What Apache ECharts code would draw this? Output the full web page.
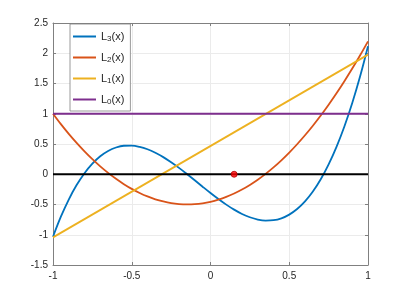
<!DOCTYPE html>
<html>
<head>
<meta charset="utf-8">
<script src="https://cdn.jsdelivr.net/npm/echarts@6/dist/echarts.min.js"></script>
<style>html,body{margin:0;padding:0;background:#fff}#c{width:407px;height:298px}</style>
</head>
<body>
<div id="c"></div>
<script>
var xs = [-1,-0.95,-0.9,-0.85,-0.8,-0.75,-0.7,-0.65,-0.6,-0.55,-0.5,-0.45,-0.4,-0.35,-0.3,-0.25,-0.2,-0.15,-0.1,-0.05,
          0,0.05,0.1,0.15,0.2,0.25,0.3,0.35,0.4,0.45,0.5,0.55,0.6,0.65,0.7,0.75,0.8,0.85,0.9,0.95,1];
var L3 = [-1.033,-0.702,-0.418,-0.179,0.018,0.176,0.298,0.385,0.442,0.471,0.473,0.453,0.413,0.355,0.283,0.198,0.105,0.004,-0.100,-0.206,
          -0.310,-0.409,-0.502,-0.585,-0.656,-0.711,-0.749,-0.766,-0.760,-0.728,-0.667,-0.575,-0.449,-0.286,-0.083,0.162,0.452,0.789,1.177,1.618,2.115];
var L2 = [1.0,0.828,0.668,0.519,0.379,0.250,0.131,0.023,-0.076,-0.164,-0.242,-0.309,-0.367,-0.414,-0.450,-0.477,-0.493,-0.499,-0.495,-0.480,
          -0.455,-0.420,-0.375,-0.319,-0.253,-0.177,-0.091,0.006,0.113,0.230,0.358,0.496,0.644,0.802,0.970,1.149,1.338,1.538,1.747,1.967,2.197];
var xEnds = [-1, 1];
var L1 = [-1.043, 1.977];
var L0 = [1, 1];
var zeroLine = [0, 0];
var point = [0.15, 0];
var names = ['L3(x)','L2(x)','L1(x)','L0(x)'];
var subs = {'L3(x)':'3','L2(x)':'2','L1(x)':'1','L0(x)':'0'};

function zip(xv, ys){ return xv.map(function(x,i){return [x, ys[i]];}); }

var font = 'Liberation Sans, Helvetica, Arial, sans-serif';
var axisCol = '#808080';
var chart = echarts.init(document.getElementById('c'), null, {renderer:'canvas'});
function mkLine(name, xv, ys, color, smooth){
  return {name:name, type:'line', data:zip(xv, ys), smooth:smooth, showSymbol:false, symbol:'none',
    lineStyle:{color:color, width:1.8}, itemStyle:{color:color}, emphasis:{disabled:true}, z:2};
}
chart.setOption({
  animation:false,
  backgroundColor:'#fff',
  grid:{left:53, right:39, top:23, bottom:33, containLabel:false},
  legend:{
    data:names, orient:'vertical', left:70, top:24,
    icon:'rect', itemWidth:23, itemHeight:2, itemGap:7,
    padding:[5,6,5,3], backgroundColor:'#fff',
    borderColor:'#808080', borderWidth:0.8,
    selectedMode:false,
    formatter:function(n){ return '{a|L}{s|'+subs[n]+'}{a|(x)}'; },
    textStyle:{
      rich:{
        a:{fontFamily:font, fontSize:11, color:'#262626', lineHeight:13, verticalAlign:'middle'},
        s:{fontFamily:font, fontSize:8, color:'#262626', lineHeight:13, verticalAlign:'bottom', padding:[6,0,0,0]}
      }
    }
  },
  xAxis:[
    {type:'value', min:-1, max:1, interval:0.5, position:'bottom',
     axisLine:{show:true, onZero:false, lineStyle:{color:axisCol, width:1}},
     axisTick:{show:true, inside:true, length:3, lineStyle:{color:axisCol}},
     axisLabel:{color:'#262626', fontFamily:font, fontSize:10, margin:6,
       formatter:function(v){return String(v);}},
     splitLine:{show:true, lineStyle:{color:'#ebebeb', width:1}}},
    {type:'value', min:-1, max:1, interval:0.5, position:'top',
     axisLine:{show:true, onZero:false, lineStyle:{color:axisCol, width:1}},
     axisTick:{show:true, inside:true, length:3, lineStyle:{color:axisCol}},
     axisLabel:{show:false}, splitLine:{show:false}}
  ],
  yAxis:[
    {type:'value', min:-1.5, max:2.5, interval:0.5, position:'left',
     axisLine:{show:true, onZero:false, lineStyle:{color:axisCol, width:1}},
     axisTick:{show:true, inside:true, length:3, lineStyle:{color:axisCol}},
     axisLabel:{color:'#262626', fontFamily:font, fontSize:10, margin:5,
       formatter:function(v){return String(v);}},
     splitLine:{show:true, lineStyle:{color:'#ebebeb', width:1}}},
    {type:'value', min:-1.5, max:2.5, interval:0.5, position:'right',
     axisLine:{show:true, onZero:false, lineStyle:{color:axisCol, width:1}},
     axisTick:{show:true, inside:true, length:3, lineStyle:{color:axisCol}},
     axisLabel:{show:false}, splitLine:{show:false}}
  ],
  series:[
    mkLine('L3(x)', xs, L3, '#0072BD', 0.35),
    mkLine('L2(x)', xs, L2, '#D95319', 0.35),
    mkLine('L1(x)', xEnds, L1, '#EDB120', false),
    mkLine('L0(x)', xEnds, L0, '#7E2F8E', false),
    {name:'zero', type:'line', data:zip(xEnds, zeroLine), showSymbol:false, symbol:'none',
     lineStyle:{color:'#000', width:1.8}, emphasis:{disabled:true}, z:3},
    {name:'pt', type:'scatter', data:[point], symbol:'circle', symbolSize:6,
     itemStyle:{color:'#ff0000', borderColor:'#b00000', borderWidth:1}, z:4}
  ]
});
</script>
</body>
</html>
